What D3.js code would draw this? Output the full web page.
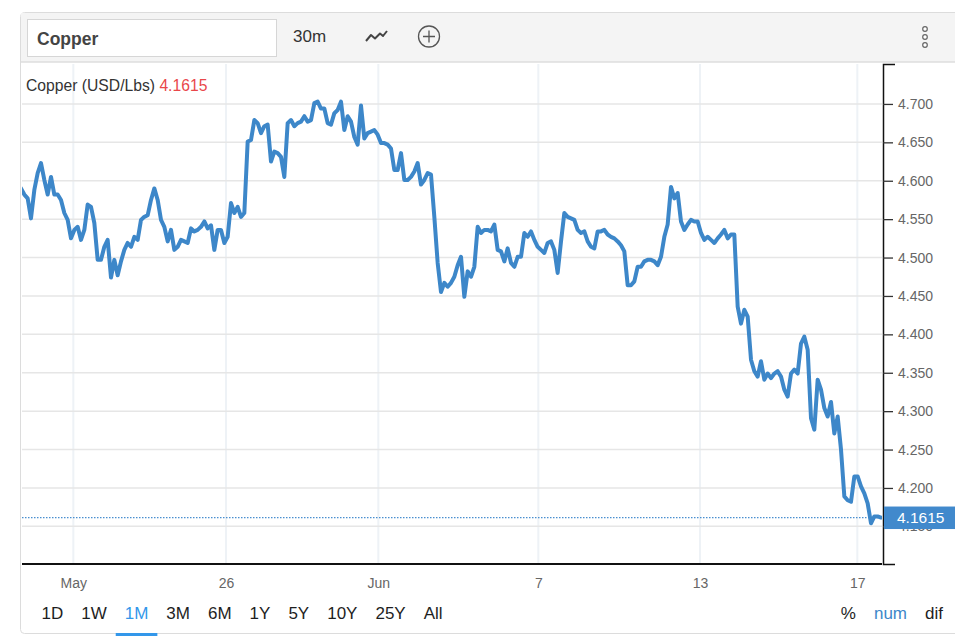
<!DOCTYPE html>
<html>
<head>
<meta charset="utf-8">
<script src="https://cdn.jsdelivr.net/npm/d3@7"></script>
<style>
  body { margin: 0; background: #fff; font-family: "Liberation Sans", Arial, sans-serif; }
  svg text { font-family: "Liberation Sans", Arial, sans-serif; }
</style>
</head>
<body>
<div id="chart"></div>
<script>
// copper, 30 minute closes
const prices = [
  4.590, 4.582, 4.577, 4.551, 4.588, 4.610, 4.623, 4.601, 4.582, 4.605,
  4.582, 4.582, 4.575, 4.558, 4.549, 4.525, 4.536, 4.540, 4.523, 4.536,
  4.569, 4.566, 4.545, 4.497, 4.497, 4.514, 4.523, 4.474, 4.497, 4.477,
  4.495, 4.510, 4.519, 4.514, 4.527, 4.523, 4.549, 4.553, 4.555, 4.575,
  4.590, 4.575, 4.549, 4.540, 4.521, 4.536, 4.510, 4.514, 4.523,
  4.521, 4.519, 4.538, 4.534, 4.536, 4.540, 4.547, 4.538, 4.542, 4.510,
  4.536, 4.536, 4.519, 4.527, 4.571, 4.558, 4.566, 4.553, 4.558, 4.651,
  4.653, 4.679, 4.675, 4.662, 4.671, 4.673, 4.625, 4.638, 4.636, 4.631,
  4.605, 4.675, 4.679, 4.671, 4.675, 4.677, 4.684, 4.677, 4.679, 4.701,
  4.703, 4.694, 4.694, 4.675, 4.673,
  4.688, 4.692, 4.703, 4.666, 4.684, 4.677, 4.657, 4.647, 4.698, 4.655,
  4.662, 4.664, 4.666, 4.660, 4.649, 4.649, 4.647, 4.642, 4.614, 4.614,
  4.636, 4.601, 4.601, 4.605, 4.612, 4.623, 4.595, 4.601, 4.610, 4.608,
  4.553, 4.493, 4.455, 4.467, 4.462, 4.467, 4.475, 4.490, 4.501, 4.449,
  4.482, 4.475, 4.488, 4.540, 4.532,
  4.536, 4.536, 4.534, 4.543, 4.510, 4.508, 4.495, 4.512, 4.493, 4.488,
  4.501, 4.501, 4.532, 4.527, 4.534, 4.523, 4.514, 4.510, 4.506, 4.519,
  4.521, 4.510, 4.480, 4.521, 4.558, 4.553, 4.551, 4.549, 4.536, 4.532,
  4.534, 4.521, 4.514, 4.512, 4.534, 4.534, 4.536, 4.530, 4.527, 4.525,
  4.521, 4.516, 4.508, 4.464, 4.464, 4.469, 4.488, 4.488,
  4.495, 4.497, 4.497, 4.495, 4.490, 4.501, 4.527, 4.543, 4.592, 4.577,
  4.584, 4.547, 4.536, 4.543, 4.549, 4.547, 4.547, 4.532, 4.523, 4.527,
  4.523, 4.519, 4.525, 4.530, 4.536, 4.525, 4.530, 4.530, 4.436, 4.414,
  4.432, 4.423, 4.367, 4.352, 4.345, 4.365, 4.341, 4.349, 4.343, 4.349,
  4.352, 4.345, 4.328, 4.319, 4.349,
  4.354, 4.349, 4.388, 4.397, 4.380, 4.291, 4.276, 4.341, 4.328, 4.304,
  4.293, 4.312, 4.271, 4.293, 4.250, 4.189, 4.184, 4.182, 4.215, 4.215,
  4.202, 4.193, 4.180, 4.154, 4.163, 4.163, 4.1615
];
const lastPrice = 4.1615;

// date labels sit at bar positions (bar index into prices)
const dateTickIndex = [15.7, 61.5, 107.2, 155.2, 203.7, 250.9];
const dateTickLabels = ["May", "26", "Jun", "7", "13", "17"];
const priceTicks = [4.15, 4.20, 4.25, 4.30, 4.35, 4.40, 4.45, 4.50, 4.55, 4.60, 4.65, 4.70];
const yDomain = [4.101, 4.752];

const ranges = ["1D", "1W", "1M", "3M", "6M", "1Y", "5Y", "10Y", "25Y", "All"];
const activeRange = "1M";
const modes = ["%", "num", "dif"];
const activeMode = "num";

const W = 955, H = 636;
const plot = { left: 22, right: 882, top: 64, bottom: 564 };
const blue = "#3d87c9";

const svg = d3.select("#chart").append("svg")
  .attr("width", W).attr("height", H);

// card + toolbar
svg.append("rect")
  .attr("x", 20.5).attr("y", 12.5).attr("width", 960).attr("height", 621)
  .attr("rx", 4).attr("fill", "#fff").attr("stroke", "#dcdcdc");
svg.append("rect")
  .attr("x", 21).attr("y", 13).attr("width", 940).attr("height", 49)
  .attr("fill", "#f4f4f4");
svg.append("line")
  .attr("x1", 21).attr("x2", W).attr("y1", 62).attr("y2", 62)
  .attr("stroke", "#dedede").attr("stroke-width", 1.5);

svg.append("rect")
  .attr("x", 27.5).attr("y", 19.5).attr("width", 249).attr("height", 37)
  .attr("fill", "#fff").attr("stroke", "#d6d6d6");
svg.append("text")
  .attr("x", 37).attr("y", 45)
  .attr("font-size", 17.5).attr("font-weight", "bold").attr("fill", "#444")
  .text("Copper");
svg.append("text")
  .attr("x", 293).attr("y", 42)
  .attr("font-size", 17).attr("fill", "#333")
  .text("30m");

// small line-chart icon
svg.append("path")
  .attr("d", "M366,41 L371,35 L375,38.5 L380,33.5 L383,36 L387,31")
  .attr("fill", "none").attr("stroke", "#444").attr("stroke-width", 2)
  .attr("stroke-linejoin", "round");

// add-series icon
const plus = svg.append("g").attr("transform", "translate(429,36.5)")
  .attr("stroke", "#555").attr("fill", "none").attr("stroke-width", 1.3);
plus.append("circle").attr("r", 10.5);
plus.append("path").attr("d", "M-6,0H6M0,-6V6");

// menu dots
svg.append("g").selectAll("circle")
  .data([29, 37, 45])
  .join("circle")
  .attr("cx", 925).attr("cy", d => d).attr("r", 2.3)
  .attr("fill", "#fff").attr("stroke", "#666").attr("stroke-width", 1.2);

// scales
const x = d3.scaleLinear()
  .domain([0, prices.length - 1])
  .range([21, 881]);
const y = d3.scaleLinear()
  .domain(yDomain)
  .range([plot.bottom, plot.top]);

// grid
const grid = svg.append("g");
grid.selectAll(".vgrid")
  .data(dateTickIndex)
  .join("line")
  .attr("x1", d => x(d)).attr("x2", d => x(d))
  .attr("y1", plot.top).attr("y2", plot.bottom)
  .attr("stroke", "#eef2f6").attr("stroke-width", 2);
grid.selectAll(".hgrid")
  .data(priceTicks)
  .join("line")
  .attr("x1", plot.left).attr("x2", plot.right)
  .attr("y1", d => y(d)).attr("y2", d => y(d))
  .attr("stroke", "#e6e6e6").attr("stroke-width", 1.5);

// last price guide
svg.append("line")
  .attr("x1", plot.left).attr("x2", plot.right + 1)
  .attr("y1", y(lastPrice)).attr("y2", y(lastPrice))
  .attr("stroke", "#4a8fd0").attr("stroke-width", 1.2)
  .attr("stroke-dasharray", "1.5,1.5");

// price line
svg.append("clipPath").attr("id", "clip")
  .append("rect")
  .attr("x", plot.left).attr("y", plot.top)
  .attr("width", plot.right - plot.left).attr("height", plot.bottom - plot.top);

const line = d3.line()
  .x((d, i) => x(i))
  .y(d => y(d));

svg.append("path")
  .datum(prices)
  .attr("clip-path", "url(#clip)")
  .attr("fill", "none")
  .attr("stroke", blue)
  .attr("stroke-width", 4)
  .attr("stroke-linejoin", "round")
  .attr("stroke-linecap", "round")
  .attr("d", line);

// x axis
const xAxis = svg.append("g")
  .attr("transform", `translate(0,${plot.bottom})`)
  .call(d3.axisBottom(x)
    .tickValues(dateTickIndex)
    .tickFormat((d, i) => dateTickLabels[i])
    .tickSize(0)
    .tickSizeOuter(0)
    .tickPadding(14));
xAxis.select(".domain").remove();
xAxis.selectAll("text").attr("font-size", 14).attr("fill", "#666");
svg.append("line")
  .attr("x1", plot.left).attr("x2", plot.right)
  .attr("y1", plot.bottom).attr("y2", plot.bottom)
  .attr("stroke", "#111").attr("stroke-width", 2);

// y axis on the right
const yAxis = svg.append("g")
  .attr("transform", `translate(${plot.right + 1},0)`)
  .call(d3.axisRight(y)
    .tickValues(priceTicks)
    .tickFormat(d3.format(".3f"))
    .tickSize(10)
    .tickSizeOuter(12)
    .tickPadding(5));
yAxis.select(".domain").attr("stroke", "#111").attr("stroke-width", 1.5);
yAxis.selectAll(".tick line").attr("stroke", "#333").attr("stroke-width", 1.3);
yAxis.selectAll("text").attr("font-size", 14).attr("fill", "#666");

// last price badge (covers the lowest tick label, as in the original)
svg.append("rect")
  .attr("x", plot.right + 2).attr("y", y(lastPrice) - 11)
  .attr("width", W - plot.right).attr("height", 22.5)
  .attr("fill", "#4189cc");
svg.append("text")
  .attr("x", 897).attr("y", y(lastPrice) + 5.5)
  .attr("font-size", 15.5).attr("fill", "#fff")
  .text(d3.format(".4f")(lastPrice));

// legend
const legend = svg.append("text")
  .attr("x", 26).attr("y", 91)
  .attr("font-size", 15.7);
legend.append("tspan").attr("fill", "#333").text("Copper (USD/Lbs) ");
legend.append("tspan").attr("fill", "#e9474a").text(d3.format(".4f")(lastPrice));

// range buttons
let bx = 41.5;
ranges.forEach(r => {
  const t = svg.append("text")
    .attr("x", bx).attr("y", 619)
    .attr("font-size", 17)
    .attr("fill", r === activeRange ? "#3397ea" : "#1e1e1e")
    .text(r);
  const w = t.node().getComputedTextLength();
  if (r === activeRange) {
    svg.append("rect")
      .attr("x", bx - 9).attr("y", 633).attr("width", w + 18).attr("height", 3)
      .attr("fill", "#3397ea");
  }
  bx += w + 18;
});

// display modes, right aligned
let mx = 943;
modes.slice().reverse().forEach(m => {
  const t = svg.append("text")
    .attr("x", mx).attr("y", 619)
    .attr("font-size", 17)
    .attr("text-anchor", "end")
    .attr("fill", m === activeMode ? blue : "#1e1e1e")
    .text(m);
  mx -= t.node().getComputedTextLength() + 18;
});
</script>
</body>
</html>
